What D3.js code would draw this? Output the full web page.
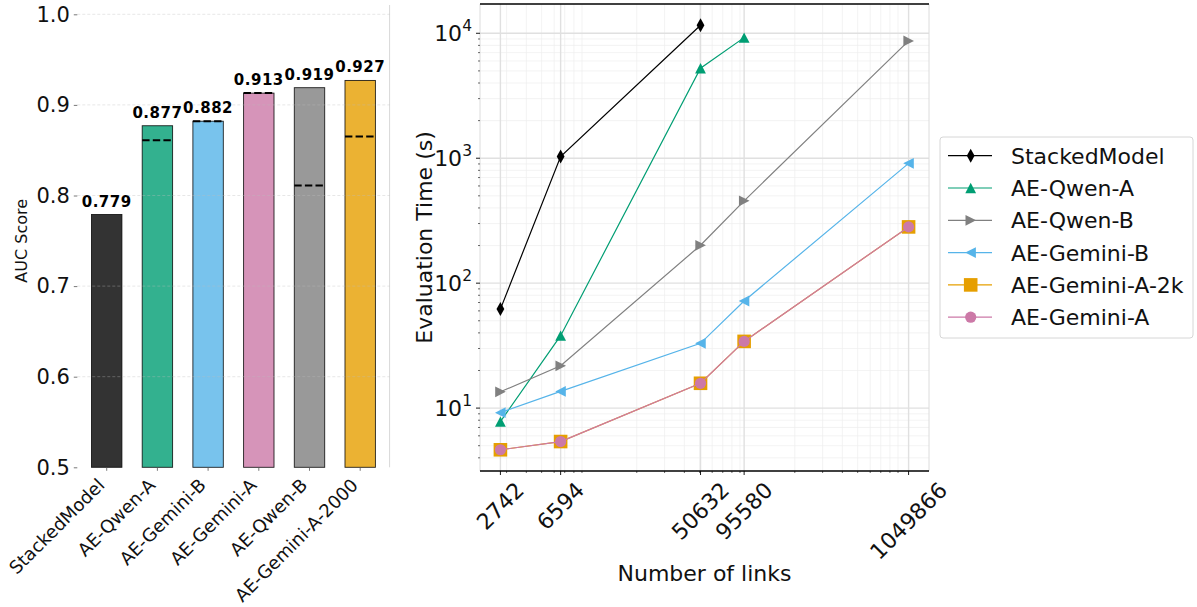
<!DOCTYPE html>
<html>
<head>
<meta charset="utf-8">
<script src="https://cdn.jsdelivr.net/npm/d3@7"></script>
<style>
  body { margin: 0; background: #fff; }
  svg { font-family: "DejaVu Sans", sans-serif; }
</style>
</head>
<body>
<div id="chart"></div>
<script>
// ---- left panel data (AUC bars) ----
var models = ["StackedModel", "AE-Qwen-A", "AE-Gemini-B", "AE-Gemini-A", "AE-Qwen-B", "AE-Gemini-A-2000"];
var aucScores = [0.779, 0.877, 0.882, 0.913, 0.919, 0.927];
var dashedScores = [null, 0.861, 0.882, 0.913, 0.811, 0.865];
var barColors = ["#000000", "#009E73", "#56B4E9", "#CC79A7", "#808080", "#E69F00"];
var aucTicks = [0.5, 0.6, 0.7, 0.8, 0.9, 1.0];

// ---- right panel data (evaluation time) ----
var linkCounts = [2742, 6594, 50632, 95580, 1049866];
var seriesNames = ["StackedModel", "AE-Qwen-A", "AE-Qwen-B", "AE-Gemini-B", "AE-Gemini-A-2k", "AE-Gemini-A"];
var stackedTimes = [62, 1030, 11600];
var qwenATimes = [7.8, 38, 5250, 9230];
var qwenBTimes = [13.5, 21.8, 201, 456, 8690];
var geminiBTimes = [9.2, 13.6, 33, 72, 910];
var geminiA2kTimes = [4.64, 5.4, 15.8, 34.2, 282];
var geminiATimes = [4.64, 5.4, 15.8, 34.2, 282];
var seriesColors = ["#000000", "#009E73", "#808080", "#56B4E9", "#E69F00", "#CC79A7"];
var seriesMarkers = ["thin_diamond", "triangle_up", "triangle_right", "triangle_left", "square", "circle"];
var timeTicks = [10, 100, 1000, 10000];

var svg = d3.select("#chart").append("svg")
  .attr("width", 1197)
  .attr("height", 607);

// ================= LEFT: bar chart =================
var barMargin = { top: 14.3, left: 77.3, right: 389.6, bottom: 467.3 };

var xBar = d3.scaleLinear().domain([-0.58, 5.58]).range([barMargin.left, barMargin.right]);
var yBar = d3.scaleLinear().domain([0.5, 1.0]).range([barMargin.bottom, barMargin.top]);

var left = svg.append("g");

// right edge line
left.append("line")
  .attr("x1", barMargin.right).attr("x2", barMargin.right)
  .attr("y1", 5).attr("y2", barMargin.bottom)
  .attr("stroke", "#d8d8d8").attr("stroke-width", 1);

// bars
left.selectAll("rect.bar")
  .data(models)
  .enter().append("rect")
  .attr("class", "bar")
  .attr("x", function (d, i) { return xBar(i - 0.3); })
  .attr("width", function (d, i) { return xBar(i + 0.3) - xBar(i - 0.3); })
  .attr("y", function (d, i) { return yBar(aucScores[i]); })
  .attr("height", function (d, i) { return yBar(0.5) - yBar(aucScores[i]); })
  .attr("fill", function (d, i) { return barColors[i]; })
  .attr("fill-opacity", 0.8)
  .attr("stroke", "#000")
  .attr("stroke-opacity", 0.85)
  .attr("stroke-width", 0.9);

// dashed reference lines inside bars
left.selectAll("line.ref")
  .data(models.filter(function (d, i) { return dashedScores[i] !== null; }))
  .enter().append("line")
  .attr("class", "ref")
  .attr("x1", function (d) { return xBar(models.indexOf(d) - 0.3); })
  .attr("x2", function (d) { return xBar(models.indexOf(d) + 0.3); })
  .attr("y1", function (d) { return yBar(dashedScores[models.indexOf(d)]); })
  .attr("y2", function (d) { return yBar(dashedScores[models.indexOf(d)]); })
  .attr("stroke", "#000")
  .attr("stroke-width", 2)
  .attr("stroke-dasharray", "7.4,3.2");

// grid (drawn on top, faint)
left.selectAll("line.grid")
  .data(aucTicks.slice(1))
  .enter().append("line")
  .attr("class", "grid")
  .attr("x1", barMargin.left).attr("x2", barMargin.right)
  .attr("y1", function (d) { return yBar(d); })
  .attr("y2", function (d) { return yBar(d); })
  .attr("stroke", "#bbbbbb")
  .attr("stroke-opacity", 0.45)
  .attr("stroke-width", 0.8)
  .attr("stroke-dasharray", "3,2");

// value labels
left.selectAll("text.val")
  .data(models)
  .enter().append("text")
  .attr("class", "val")
  .attr("x", function (d, i) { return xBar(i); })
  .attr("y", function (d, i) { return yBar(aucScores[i]) - 8; })
  .attr("text-anchor", "middle")
  .attr("font-size", 15)
  .attr("font-weight", "bold")
  .attr("letter-spacing", 0.5)
  .text(function (d, i) { return aucScores[i].toFixed(3); });

// y axis
var yAxisBar = d3.axisLeft(yBar).tickValues(aucTicks).tickFormat(d3.format(".1f")).tickSize(3.5).tickPadding(4);
left.append("g")
  .attr("transform", "translate(" + barMargin.left + ",0)")
  .call(yAxisBar)
  .call(function (g) {
    g.select(".domain").remove();
    g.selectAll(".tick line").attr("stroke", "#555").attr("stroke-width", 0.8);
    g.selectAll(".tick text").attr("font-size", 21).attr("font-family", "DejaVu Sans").attr("fill", "#111");
  });

// x ticks
left.selectAll("line.xtick")
  .data(models)
  .enter().append("line")
  .attr("x1", function (d, i) { return xBar(i); })
  .attr("x2", function (d, i) { return xBar(i); })
  .attr("y1", barMargin.bottom).attr("y2", barMargin.bottom + 3.5)
  .attr("stroke", "#555").attr("stroke-width", 0.8);

left.selectAll("text.xlab")
  .data(models)
  .enter().append("text")
  .attr("class", "xlab")
  .attr("text-anchor", "end")
  .attr("font-size", 18)
  .attr("fill", "#111")
  .attr("transform", function (d, i) {
    return "translate(" + (xBar(i) - 1) + "," + (barMargin.bottom + 19) + ") rotate(-45)";
  })
  .text(function (d) { return d; });

left.append("text")
  .attr("transform", "translate(" + 27 + "," + ((barMargin.top + barMargin.bottom) / 2) + ") rotate(-90)")
  .attr("text-anchor", "middle")
  .attr("font-size", 16)
  .attr("fill", "#111")
  .text("AUC Score");

// ================= RIGHT: log-log line chart =================
var plot = { left: 480, right: 929, top: 4, bottom: 471 };

var allSeries = [stackedTimes, qwenATimes, qwenBTimes, geminiBTimes, geminiA2kTimes, geminiATimes];
var allTimes = [].concat.apply([], allSeries);

function logPad(lo, hi) {
  var a = Math.log10(lo), b = Math.log10(hi), m = (b - a) * 0.05;
  return [Math.pow(10, a - m), Math.pow(10, b + m)];
}

var xLog = d3.scaleLog().domain(logPad(d3.min(linkCounts), d3.max(linkCounts))).range([plot.left, plot.right]);
var yLog = d3.scaleLog().domain(logPad(d3.min(allTimes), d3.max(allTimes))).range([plot.bottom, plot.top]);

var right = svg.append("g");

// minor grid values
function minorValues(domain) {
  var out = [];
  var k0 = Math.floor(Math.log10(domain[0])), k1 = Math.ceil(Math.log10(domain[1]));
  for (var k = k0; k <= k1; k++) {
    for (var m = 2; m <= 9; m++) {
      var v = m * Math.pow(10, k);
      if (v >= domain[0] && v <= domain[1]) out.push(v);
    }
  }
  return out;
}
var xMinor = minorValues(xLog.domain());
var yMinor = minorValues(yLog.domain());

right.selectAll("line.xminor")
  .data(xMinor).enter().append("line")
  .attr("x1", function (d) { return xLog(d); }).attr("x2", function (d) { return xLog(d); })
  .attr("y1", plot.top).attr("y2", plot.bottom)
  .attr("stroke", "#eeeeee").attr("stroke-width", 0.7);

right.selectAll("line.yminor")
  .data(yMinor).enter().append("line")
  .attr("x1", plot.left).attr("x2", plot.right)
  .attr("y1", function (d) { return yLog(d); }).attr("y2", function (d) { return yLog(d); })
  .attr("stroke", "#eeeeee").attr("stroke-width", 0.7);

right.selectAll("line.xmajor")
  .data(linkCounts).enter().append("line")
  .attr("x1", function (d) { return xLog(d); }).attr("x2", function (d) { return xLog(d); })
  .attr("y1", plot.top).attr("y2", plot.bottom)
  .attr("stroke", "#e0e0e0").attr("stroke-width", 1.4);

right.selectAll("line.ymajor")
  .data(timeTicks).enter().append("line")
  .attr("x1", plot.left).attr("x2", plot.right)
  .attr("y1", function (d) { return yLog(d); }).attr("y2", function (d) { return yLog(d); })
  .attr("stroke", "#e0e0e0").attr("stroke-width", 1.4);

// spines
right.append("line").attr("x1", plot.left).attr("x2", plot.left).attr("y1", plot.top).attr("y2", plot.bottom)
  .attr("stroke", "#dcdcdc").attr("stroke-width", 1);
right.append("line").attr("x1", plot.right).attr("x2", plot.right).attr("y1", plot.top).attr("y2", plot.bottom)
  .attr("stroke", "#dcdcdc").attr("stroke-width", 1);
right.append("line").attr("x1", plot.left).attr("x2", plot.right).attr("y1", plot.top).attr("y2", plot.top)
  .attr("stroke", "#000").attr("stroke-width", 1.3);
right.append("line").attr("x1", plot.left).attr("x2", plot.right).attr("y1", plot.bottom).attr("y2", plot.bottom)
  .attr("stroke", "#000").attr("stroke-width", 1.3);

// marker shapes
function markerPath(type) {
  switch (type) {
    case "thin_diamond": return "M0,-7L3.9,0L0,7L-3.9,0Z";
    case "triangle_up": return "M0,-5.2L5.4,5.2L-5.4,5.2Z";
    case "triangle_right": return "M5.4,0L-5.2,5.4L-5.2,-5.4Z";
    case "triangle_left": return "M-5.4,0L5.2,5.4L5.2,-5.4Z";
    case "square": return "M-6.8,-6.8H6.8V6.8H-6.8Z";
    case "circle": return d3.symbol().type(d3.symbolCircle).size(Math.PI * 5.6 * 5.6)();
  }
}

var line = d3.line()
  .x(function (d) { return xLog(d[0]); })
  .y(function (d) { return yLog(d[1]); });

allSeries.forEach(function (vals, s) {
  var pts = vals.map(function (v, i) { return [linkCounts[i], v]; });
  var g = right.append("g");
  g.append("path")
    .attr("d", line(pts))
    .attr("fill", "none")
    .attr("stroke", seriesColors[s])
    .attr("stroke-width", 1.2);
  g.selectAll("path.mk")
    .data(pts).enter().append("path")
    .attr("class", "mk")
    .attr("d", markerPath(seriesMarkers[s]))
    .attr("transform", function (d) { return "translate(" + xLog(d[0]) + "," + yLog(d[1]) + ")"; })
    .attr("fill", seriesColors[s]);
});

// x ticks (major at data values, minor log)
right.selectAll("line.xtk")
  .data(linkCounts).enter().append("line")
  .attr("x1", function (d) { return xLog(d); }).attr("x2", function (d) { return xLog(d); })
  .attr("y1", plot.bottom).attr("y2", plot.bottom + 4)
  .attr("stroke", "#000").attr("stroke-width", 0.9);
right.selectAll("line.xtkm")
  .data(xMinor).enter().append("line")
  .attr("x1", function (d) { return xLog(d); }).attr("x2", function (d) { return xLog(d); })
  .attr("y1", plot.bottom).attr("y2", plot.bottom + 2)
  .attr("stroke", "#000").attr("stroke-width", 0.6);

right.selectAll("text.xtl")
  .data(linkCounts).enter().append("text")
  .attr("class", "xtl")
  .attr("font-size", 22)
  .attr("fill", "#111")
  .attr("text-anchor", "middle")
  .attr("dominant-baseline", "central")
  .text(function (d) { return d; })
  .attr("transform", function (d) {
    var w = this.getComputedTextLength();
    var h = (w + 22 * 0.95) * Math.SQRT1_2;
    return "translate(" + xLog(d) + "," + (plot.bottom + 8 + h / 2) + ") rotate(-45)";
  });

// y ticks
right.selectAll("line.ytk")
  .data(timeTicks).enter().append("line")
  .attr("x1", plot.left - 4).attr("x2", plot.left)
  .attr("y1", function (d) { return yLog(d); }).attr("y2", function (d) { return yLog(d); })
  .attr("stroke", "#000").attr("stroke-width", 0.9);
right.selectAll("line.ytkm")
  .data(yMinor).enter().append("line")
  .attr("x1", plot.left - 2).attr("x2", plot.left)
  .attr("y1", function (d) { return yLog(d); }).attr("y2", function (d) { return yLog(d); })
  .attr("stroke", "#000").attr("stroke-width", 0.6);

var ytl = right.selectAll("text.ytl")
  .data(timeTicks).enter().append("text")
  .attr("class", "ytl")
  .attr("x", plot.left - 8)
  .attr("y", function (d) { return yLog(d) + 8; })
  .attr("text-anchor", "end")
  .attr("font-size", 22)
  .attr("fill", "#111");
ytl.append("tspan").text("10");
ytl.append("tspan").attr("dy", -10).attr("font-size", 15.5)
  .text(function (d) { return Math.round(Math.log10(d)); });

right.append("text")
  .attr("transform", "translate(" + 432 + "," + ((plot.top + plot.bottom) / 2) + ") rotate(-90)")
  .attr("text-anchor", "middle")
  .attr("font-size", 22)
  .attr("fill", "#111")
  .text("Evaluation Time (s)");

right.append("text")
  .attr("x", (plot.left + plot.right) / 2)
  .attr("y", 581)
  .attr("text-anchor", "middle")
  .attr("font-size", 22)
  .attr("fill", "#111")
  .text("Number of links");

// ================= legend =================
var legend = svg.append("g").attr("transform", "translate(940,137)");
legend.append("rect")
  .attr("width", 253).attr("height", 201)
  .attr("rx", 3).attr("ry", 3)
  .attr("fill", "#fff")
  .attr("stroke", "#d6d6d6").attr("stroke-width", 1);

seriesNames.forEach(function (name, s) {
  var yy = 18.7 + s * 32.3;
  var item = legend.append("g").attr("transform", "translate(0," + yy + ")");
  item.append("line").attr("x1", 8).attr("x2", 52).attr("y1", 0).attr("y2", 0)
    .attr("stroke", seriesColors[s]).attr("stroke-width", 1.2);
  item.append("path").attr("d", markerPath(seriesMarkers[s]))
    .attr("transform", "translate(30.7,0)")
    .attr("fill", seriesColors[s]);
  item.append("text").attr("x", 71).attr("y", 8)
    .attr("font-size", 22).attr("fill", "#111")
    .text(name);
});
</script>
</body>
</html>
